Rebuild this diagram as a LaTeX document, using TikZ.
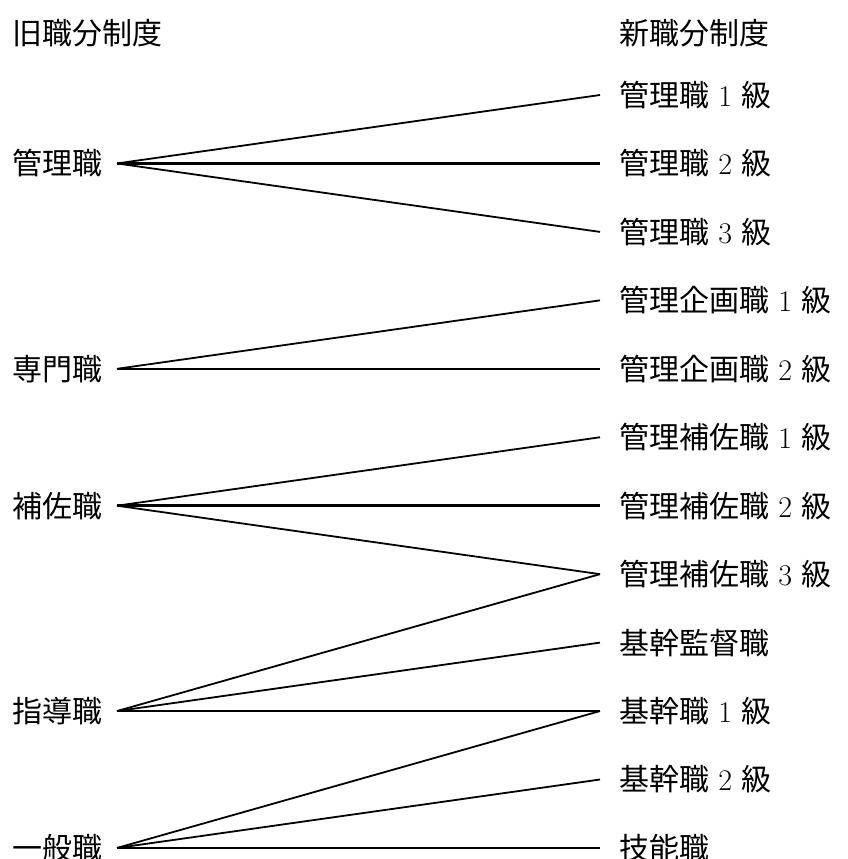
\documentclass[tikz,border=0pt]{standalone}
\usepackage{fontspec}
\newfontfamily\jp{Noto Sans CJK JP}
\begin{document}
\begin{tikzpicture}[x=1pt,y=-1pt,
  lbl/.style={font=\fontsize{30}{30}\selectfont, inner sep=0pt, anchor=west},
  hline/.style={line width=2.6pt},
  dline/.style={line width=1.8pt}]
\useasboundingbox (0,0) rectangle (847,859);
\def\r#1{95+68.45*#1}
% headers
\node[lbl] (oldh) at (12,33) {\jp 旧職分制度};
\node[lbl] (newh) at (619,33) {\jp 新職分制度};
% left
\node[lbl] (L1) at (12,{\r{1}}) {\jp 管理職};
\node[lbl] (L2) at (12,{\r{4}}) {\jp 専門職};
\node[lbl] (L3) at (12,{\r{6}}) {\jp 補佐職};
\node[lbl] (L4) at (12,{\r{9}}) {\jp 指導職};
\node[lbl] (L5) at (12,{\r{11}}) {\jp 一般職};
\foreach \n/\i in {L1/1,L2/4,L3/6,L4/9,L5/11} \coordinate (\n p) at (117,{\r{\i}});
% right
\node[lbl] (R0) at (619,{\r{0}}) {{\jp 管理職} 1 {\jp 級}};
\node[lbl] (R1) at (619,{\r{1}}) {{\jp 管理職} 2 {\jp 級}};
\node[lbl] (R2) at (619,{\r{2}}) {{\jp 管理職} 3 {\jp 級}};
\node[lbl] (R3) at (619,{\r{3}}) {{\jp 管理企画職} 1 {\jp 級}};
\node[lbl] (R4) at (619,{\r{4}}) {{\jp 管理企画職} 2 {\jp 級}};
\node[lbl] (R5) at (619,{\r{5}}) {{\jp 管理補佐職} 1 {\jp 級}};
\node[lbl] (R6) at (619,{\r{6}}) {{\jp 管理補佐職} 2 {\jp 級}};
\node[lbl] (R7) at (619,{\r{7}}) {{\jp 管理補佐職} 3 {\jp 級}};
\node[lbl] (R8) at (619,{\r{8}}) {\jp 基幹監督職};
\node[lbl] (R9) at (619,{\r{9}}) {{\jp 基幹職} 1 {\jp 級}};
\node[lbl] (R10) at (619,{\r{10}}) {{\jp 基幹職} 2 {\jp 級}};
\node[lbl] (R11) at (619,{\r{11}}) {\jp 技能職};
\foreach \i in {0,...,11} \coordinate (R\i p) at (600,{\r{\i}});
% connectors
\draw[dline] (L1p) -- (R0p);
\draw[hline] (L1p) -- (R1p);
\draw[dline] (L1p) -- (R2p);
\draw[dline] (L2p) -- (R3p);
\draw[hline] (L2p) -- (R4p);
\draw[dline] (L3p) -- (R5p);
\draw[hline] (L3p) -- (R6p);
\draw[dline] (L3p) -- (R7p);
\draw[dline] (L4p) -- (R7p);
\draw[dline] (L4p) -- (R8p);
\draw[hline] (L4p) -- (R9p);
\draw[dline] (L5p) -- (R9p);
\draw[dline] (L5p) -- (R10p);
\draw[hline] (L5p) -- (R11p);
\end{tikzpicture}
\end{document}
